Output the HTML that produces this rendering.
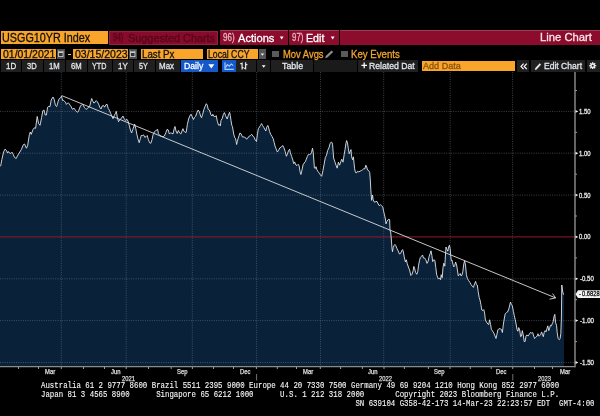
<!DOCTYPE html>
<html><head><meta charset="utf-8"><title>USGG10YR Index Line Chart</title>
<style>
*{margin:0;padding:0;box-sizing:border-box}
html,body{width:600px;height:416px;background:#000;overflow:hidden}
body{position:relative;font-family:"Liberation Sans",Arial,sans-serif;color:#fff}
.a{position:absolute}
.t{position:absolute;white-space:pre;transform-origin:0 0;font-family:"Liberation Sans",Arial,sans-serif;-webkit-text-stroke:0.3px currentColor}
#chart{position:absolute;left:0;top:0}
#chart .g{stroke:#6f7884;stroke-width:1;stroke-dasharray:1 1.3;opacity:.55}
#chart .tk{stroke:#9a9a9a;stroke-width:1}
.or{background:#f9a52b}
.rd{background:#8c0c2d;border-top:1px solid #a33a55}
.bt{position:absolute;background:#202020;height:11.6px;top:60.2px}
.ft{font-family:"Liberation Mono",monospace;color:#f6f6f6;-webkit-text-stroke:0.12px currentColor}
</style></head><body>
<svg id="chart" width="600" height="416" viewBox="0 0 600 416">
<path d="M0,366.7 L0,166.3 L0.6,166.3 L1.8,159.7 L3.6,151.8 L5,149.2 L6.6,150.6 L7.5,153 L8.4,151.5 L9.4,153 L10.8,153.4 L12,152.2 L13.2,154.3 L14.4,157.3 L16.2,158.5 L17.4,156 L19.2,153 L21.4,149.4 L23.4,144.6 L24.6,144 L26.4,148.2 L27.6,145.8 L29.4,134.4 L30.3,132 L31.2,134.4 L33,129.6 L34.3,127.8 L35.6,128.3 L37.2,116.5 L38.6,123.5 L40,125.3 L41.6,117.5 L42.8,110.8 L44,110 L45.2,115 L46.4,115 L47.6,107.2 L48.8,106.4 L50,106.6 L51.2,100 L53,97 L54.2,99.4 L55.4,105.4 L56.6,106.6 L57.8,103 L58,101.6 L59.2,98.8 L60.5,97.8 L61.5,96.1 L62,98.1 L62.7,100.6 L63.6,100.3 L64.6,101.6 L65.5,102.2 L66.4,104.4 L67.4,103.4 L68.3,102.8 L69.2,103.8 L70.2,105.3 L71.1,106.6 L72.1,108.8 L73,109.4 L73.9,108.1 L74.9,109.4 L75.8,110.9 L76.8,111.9 L77.7,112.2 L78.6,110.9 L79.6,108.1 L80.5,105.9 L81.4,105 L82.4,104.4 L83.3,105.3 L84.2,107.2 L85.2,108.4 L86.1,109.4 L87.1,108.8 L88,107.5 L89.6,106.6 L90.8,101.8 L91.7,98.5 L92.6,100.6 L93.8,103 L95,102.4 L96.2,100.6 L97.4,101.8 L98.6,104.2 L99.8,107.2 L101,109 L102.2,106 L103.4,105.4 L104.6,107.2 L105.8,104.8 L107,104.2 L108.2,108.4 L109.4,110.2 L110.6,113.2 L111.9,116.2 L113,118.7 L114.3,115.6 L115.5,113.2 L116.3,111.4 L117.3,116.9 L118.5,121.7 L119.7,119.9 L121.5,118 L123,116 L124.2,118.7 L125.7,120.5 L126.8,119.2 L128,121 L129.2,125.2 L130.4,130 L131.6,133 L132.8,129.4 L133.7,127 L134.6,124 L135.8,128.8 L137,134.9 L138.2,139.7 L139.2,142.7 L140.4,138.5 L141.2,135.5 L142.4,135.5 L143.6,134.9 L144.8,137.3 L146,136.7 L147.2,135.5 L148.4,139.7 L149.6,142.7 L150.8,143.3 L152,139.7 L153.2,134.3 L154.4,131.9 L155.6,130.6 L156.8,130 L157.7,129.4 L158.4,133.7 L159.9,135.5 L161,136 L162.9,136.7 L164.4,136 L165.9,132.5 L167,129.4 L168.3,130 L169.2,133.7 L170.4,133 L171.8,133.2 L173,134 L174.2,128.7 L175,126.5 L176,131 L177.2,133.5 L178.4,130.5 L179.6,132.9 L180.8,134 L182,131 L183,128.7 L183.8,131 L185,132.3 L186.2,132.3 L187.4,124.4 L188.6,119 L189.8,116 L191,114.2 L192.2,116.6 L193.4,119.6 L194.6,117.2 L195.8,116 L197,112.4 L198.2,110 L199.4,111.8 L200.6,116 L201.5,117.8 L202.7,114.2 L203.9,109.4 L205.1,106.4 L206.3,103.7 L207.3,105.2 L208.2,109.4 L209.4,110 L210.9,114.8 L212.1,116 L212.7,114.2 L214.2,116.6 L215.7,116.4 L216.2,115.6 L217.4,121.6 L218.6,125.2 L219.8,124.6 L220.4,125.8 L221,120.4 L222.2,118.6 L223.4,114.4 L224.4,112.6 L225.6,115.6 L226,116.7 L227.2,119 L228.4,115.2 L229.6,112.3 L230.3,115.7 L231,120.5 L231.8,125.3 L232.5,126.8 L233.2,131 L233.9,134.9 L234.8,137.8 L235.4,138.3 L236.1,141.2 L236.6,144.5 L237.3,141.7 L238,138.8 L239,135.9 L239.9,133 L240.9,133.5 L241.9,135.9 L242.8,137.3 L243.8,136.8 L244.8,137.3 L245.7,137.8 L246.5,139.1 L248,137.9 L249.3,136 L250.5,135.5 L251.7,134.3 L252.9,136 L254.1,137.3 L255.3,140.3 L256.5,141.5 L257.3,134.9 L258.3,128.8 L259.5,127 L260.5,125.4 L261.6,123.6 L262.6,125.6 L263.8,127.4 L265,129.8 L265.8,131 L266.6,127.4 L267.8,125.4 L268.7,128 L269.6,131.6 L270.8,134.6 L272,136.4 L273.2,138.8 L274.2,142.5 L275,146 L276.2,149 L277.4,152 L278.6,150.3 L279.8,147.9 L281,147.3 L282.2,146 L282.8,145.5 L284,147.9 L285.2,151.5 L286.4,156.3 L287.4,153.9 L288.6,150.6 L289.6,149.2 L290.4,152.8 L291.6,156.4 L292.8,160 L293.7,163.7 L294.6,161.9 L295.8,164.9 L297,165.5 L298.2,164.3 L299.2,166.1 L300,171.5 L300.9,174.5 L301.8,170.9 L303,164.9 L304.2,163 L305.4,161.5 L306.3,159.2 L307.3,156.5 L308.4,154.4 L309.5,154.6 L310.6,154.2 L311.5,152.5 L312.5,148.2 L313.2,152.2 L313.8,160 L314.4,167.9 L315.3,168.5 L316,166.7 L316.9,169.7 L318.1,171.5 L319.3,173.3 L320.5,175 L321.7,176.3 L322.9,170.9 L324.1,164.3 L325.3,157.6 L326.5,155.2 L327.7,150.4 L328.9,148 L330.1,143.5 L331.3,142 L332.1,142.6 L332.6,144.8 L333.6,158 L334.8,161.6 L336,165.2 L337.2,168.2 L338.4,162.2 L339.6,165.2 L340.8,161.6 L341.8,159.2 L343,162.2 L344.2,154.4 L345,149.6 L345.9,143.6 L346.6,140.6 L347.4,142.4 L348.3,148.4 L349.2,153.8 L350.2,151.4 L351,149.6 L351.6,156.8 L352.6,159.8 L353.4,156.8 L354,162.8 L354.6,168.8 L355.5,172.5 L356.4,173 L357.6,171.2 L358.8,171.9 L360,171.2 L361.3,170.6 L362.5,169.8 L363.7,168.8 L364.9,168.8 L365.8,165.2 L366.7,167 L367.5,170 L368.7,170.6 L369.7,172.5 L370.3,180 L370.8,189.6 L371.6,200.4 L372.5,195 L373.2,199.8 L374.4,202.2 L375.8,201.6 L377,201.4 L378.2,204 L379.4,205.8 L380.4,204.6 L381.6,205.8 L382.8,207 L383.6,211.3 L384.5,214.9 L385.4,219 L386,223.9 L386.9,221.5 L388.1,219.7 L389,219 L389.6,219.7 L390,230 L390.8,233 L391.3,239 L392,248.7 L392.5,251.7 L393.2,247.5 L394,245.6 L394.9,244.4 L395.8,245.6 L397,248.7 L398.2,251 L399.4,254 L400.6,253.5 L401.8,250.5 L402.6,249.6 L403.4,252 L404.2,256.8 L405.4,262 L406.3,259.8 L407.2,263.4 L408.4,267 L409.6,270 L410.8,275.5 L412,274.3 L413.2,270.6 L413.8,266.4 L414.7,268.8 L415.6,272.5 L416.8,274.3 L417.8,271.3 L418.6,265.2 L419.5,260.4 L420.4,257.4 L421.6,256.2 L422.6,255 L423.4,258 L424.6,258 L425.8,259.8 L427,263.4 L428.2,261 L429.2,256.2 L430.3,253.2 L431,250.8 L431.9,255.6 L432.7,261.6 L433.7,259.8 L434.9,260.4 L435.8,267.6 L436.7,274.9 L437.9,277.9 L438.7,279.1 L439.7,277.9 L440.6,279.7 L441.2,274.7 L442.2,277.7 L443,267.5 L443.8,263.2 L444.8,266.2 L445.4,256 L446,247 L447,249.4 L447.8,251.2 L448.7,247 L449.4,245.2 L450.2,248.8 L450.8,256.6 L451.4,260.8 L452,260.2 L453,264.4 L453.8,266.9 L454.7,265.6 L455.6,262 L456.6,265 L457.4,269.9 L458.3,275.9 L459.2,274.7 L460.2,273.5 L461,275.9 L461.9,275.3 L462.8,271.7 L463.8,263.8 L464.6,260.8 L465.5,265 L466.4,274.7 L467.4,278.5 L468.6,280.5 L469.8,282.3 L471,284.4 L472.2,286.2 L473.4,287.4 L474.6,283.8 L475.6,281.4 L476.4,284.4 L477.3,285 L478.2,291.6 L479.2,297.6 L480,300 L480.9,304.5 L481.8,310 L483,310.5 L483.8,309.6 L484.6,313.2 L485.4,320 L486.6,322.2 L487.8,324 L488.7,324.6 L489.6,319.8 L490.6,324.6 L491.4,329.4 L492.6,331.2 L493.8,333 L495,336 L496,338.5 L496.8,334.9 L497.8,330 L499,328.6 L500.2,328.8 L501.4,329.4 L502.4,332.5 L503.4,324 L504.4,318 L505.2,313.8 L506.4,312.6 L507.6,312 L508.8,309 L509.8,304.8 L510.5,302 L511.4,304.8 L512.3,305.8 L513.4,311.4 L514.3,315.6 L515.1,319.2 L516.1,324 L517,329.4 L517.9,331.2 L518.7,327.6 L519.7,330 L520.6,336.7 L521.5,336.1 L522.3,330.6 L523.3,334.9 L524.2,341.5 L525.1,341.5 L526,336.1 L526.8,334.9 L528,336.1 L529.2,334.3 L530.4,332.5 L531.6,333 L532.8,332.7 L533.7,336.1 L534.6,338.5 L535.8,337.3 L537,336.1 L538,333.7 L538.8,336.1 L539.7,335.5 L540.6,334.9 L541.6,331.9 L542.4,334.3 L543.3,336.7 L544.2,332.5 L545.2,330.6 L546,331.9 L546.9,328.8 L547.8,325.8 L548.8,330.6 L549.6,328.2 L550.5,325.2 L551.4,325.8 L552.4,323.4 L553.2,321.6 L554.1,316.2 L554.8,314.4 L555.6,322.8 L556.5,325.2 L557.2,332.5 L558.1,338.5 L559.3,339.7 L560.1,338.5 L560.8,333.7 L561.4,318 L561.8,285 L562.6,291 L563.5,294.7 L564,294.7 L564,366.7 Z" fill="#0a213a"/>
<line x1="0" y1="111.4" x2="574" y2="111.4" class="g"/><line x1="0" y1="153.2" x2="574" y2="153.2" class="g"/><line x1="0" y1="195.1" x2="574" y2="195.1" class="g"/><line x1="0" y1="278.8" x2="574" y2="278.8" class="g"/><line x1="0" y1="320.6" x2="574" y2="320.6" class="g"/><line x1="0" y1="362.5" x2="574" y2="362.5" class="g"/><line x1="61.3" y1="72" x2="61.3" y2="366" class="g"/><line x1="126.2" y1="72" x2="126.2" y2="366" class="g"/><line x1="192.3" y1="72" x2="192.3" y2="366" class="g"/><line x1="256.6" y1="72" x2="256.6" y2="366" class="g"/><line x1="320.5" y1="72" x2="320.5" y2="366" class="g"/><line x1="383.7" y1="72" x2="383.7" y2="366" class="g"/><line x1="450.2" y1="72" x2="450.2" y2="366" class="g"/><line x1="512.6" y1="72" x2="512.6" y2="366" class="g"/>
<line x1="0" y1="236.9" x2="574" y2="236.9" stroke="#951824" stroke-width="1"/>
<path d="M0.6,166.3 L1.8,159.7 L3.6,151.8 L5,149.2 L6.6,150.6 L7.5,153 L8.4,151.5 L9.4,153 L10.8,153.4 L12,152.2 L13.2,154.3 L14.4,157.3 L16.2,158.5 L17.4,156 L19.2,153 L21.4,149.4 L23.4,144.6 L24.6,144 L26.4,148.2 L27.6,145.8 L29.4,134.4 L30.3,132 L31.2,134.4 L33,129.6 L34.3,127.8 L35.6,128.3 L37.2,116.5 L38.6,123.5 L40,125.3 L41.6,117.5 L42.8,110.8 L44,110 L45.2,115 L46.4,115 L47.6,107.2 L48.8,106.4 L50,106.6 L51.2,100 L53,97 L54.2,99.4 L55.4,105.4 L56.6,106.6 L57.8,103 L58,101.6 L59.2,98.8 L60.5,97.8 L61.5,96.1 L62,98.1 L62.7,100.6 L63.6,100.3 L64.6,101.6 L65.5,102.2 L66.4,104.4 L67.4,103.4 L68.3,102.8 L69.2,103.8 L70.2,105.3 L71.1,106.6 L72.1,108.8 L73,109.4 L73.9,108.1 L74.9,109.4 L75.8,110.9 L76.8,111.9 L77.7,112.2 L78.6,110.9 L79.6,108.1 L80.5,105.9 L81.4,105 L82.4,104.4 L83.3,105.3 L84.2,107.2 L85.2,108.4 L86.1,109.4 L87.1,108.8 L88,107.5 L89.6,106.6 L90.8,101.8 L91.7,98.5 L92.6,100.6 L93.8,103 L95,102.4 L96.2,100.6 L97.4,101.8 L98.6,104.2 L99.8,107.2 L101,109 L102.2,106 L103.4,105.4 L104.6,107.2 L105.8,104.8 L107,104.2 L108.2,108.4 L109.4,110.2 L110.6,113.2 L111.9,116.2 L113,118.7 L114.3,115.6 L115.5,113.2 L116.3,111.4 L117.3,116.9 L118.5,121.7 L119.7,119.9 L121.5,118 L123,116 L124.2,118.7 L125.7,120.5 L126.8,119.2 L128,121 L129.2,125.2 L130.4,130 L131.6,133 L132.8,129.4 L133.7,127 L134.6,124 L135.8,128.8 L137,134.9 L138.2,139.7 L139.2,142.7 L140.4,138.5 L141.2,135.5 L142.4,135.5 L143.6,134.9 L144.8,137.3 L146,136.7 L147.2,135.5 L148.4,139.7 L149.6,142.7 L150.8,143.3 L152,139.7 L153.2,134.3 L154.4,131.9 L155.6,130.6 L156.8,130 L157.7,129.4 L158.4,133.7 L159.9,135.5 L161,136 L162.9,136.7 L164.4,136 L165.9,132.5 L167,129.4 L168.3,130 L169.2,133.7 L170.4,133 L171.8,133.2 L173,134 L174.2,128.7 L175,126.5 L176,131 L177.2,133.5 L178.4,130.5 L179.6,132.9 L180.8,134 L182,131 L183,128.7 L183.8,131 L185,132.3 L186.2,132.3 L187.4,124.4 L188.6,119 L189.8,116 L191,114.2 L192.2,116.6 L193.4,119.6 L194.6,117.2 L195.8,116 L197,112.4 L198.2,110 L199.4,111.8 L200.6,116 L201.5,117.8 L202.7,114.2 L203.9,109.4 L205.1,106.4 L206.3,103.7 L207.3,105.2 L208.2,109.4 L209.4,110 L210.9,114.8 L212.1,116 L212.7,114.2 L214.2,116.6 L215.7,116.4 L216.2,115.6 L217.4,121.6 L218.6,125.2 L219.8,124.6 L220.4,125.8 L221,120.4 L222.2,118.6 L223.4,114.4 L224.4,112.6 L225.6,115.6 L226,116.7 L227.2,119 L228.4,115.2 L229.6,112.3 L230.3,115.7 L231,120.5 L231.8,125.3 L232.5,126.8 L233.2,131 L233.9,134.9 L234.8,137.8 L235.4,138.3 L236.1,141.2 L236.6,144.5 L237.3,141.7 L238,138.8 L239,135.9 L239.9,133 L240.9,133.5 L241.9,135.9 L242.8,137.3 L243.8,136.8 L244.8,137.3 L245.7,137.8 L246.5,139.1 L248,137.9 L249.3,136 L250.5,135.5 L251.7,134.3 L252.9,136 L254.1,137.3 L255.3,140.3 L256.5,141.5 L257.3,134.9 L258.3,128.8 L259.5,127 L260.5,125.4 L261.6,123.6 L262.6,125.6 L263.8,127.4 L265,129.8 L265.8,131 L266.6,127.4 L267.8,125.4 L268.7,128 L269.6,131.6 L270.8,134.6 L272,136.4 L273.2,138.8 L274.2,142.5 L275,146 L276.2,149 L277.4,152 L278.6,150.3 L279.8,147.9 L281,147.3 L282.2,146 L282.8,145.5 L284,147.9 L285.2,151.5 L286.4,156.3 L287.4,153.9 L288.6,150.6 L289.6,149.2 L290.4,152.8 L291.6,156.4 L292.8,160 L293.7,163.7 L294.6,161.9 L295.8,164.9 L297,165.5 L298.2,164.3 L299.2,166.1 L300,171.5 L300.9,174.5 L301.8,170.9 L303,164.9 L304.2,163 L305.4,161.5 L306.3,159.2 L307.3,156.5 L308.4,154.4 L309.5,154.6 L310.6,154.2 L311.5,152.5 L312.5,148.2 L313.2,152.2 L313.8,160 L314.4,167.9 L315.3,168.5 L316,166.7 L316.9,169.7 L318.1,171.5 L319.3,173.3 L320.5,175 L321.7,176.3 L322.9,170.9 L324.1,164.3 L325.3,157.6 L326.5,155.2 L327.7,150.4 L328.9,148 L330.1,143.5 L331.3,142 L332.1,142.6 L332.6,144.8 L333.6,158 L334.8,161.6 L336,165.2 L337.2,168.2 L338.4,162.2 L339.6,165.2 L340.8,161.6 L341.8,159.2 L343,162.2 L344.2,154.4 L345,149.6 L345.9,143.6 L346.6,140.6 L347.4,142.4 L348.3,148.4 L349.2,153.8 L350.2,151.4 L351,149.6 L351.6,156.8 L352.6,159.8 L353.4,156.8 L354,162.8 L354.6,168.8 L355.5,172.5 L356.4,173 L357.6,171.2 L358.8,171.9 L360,171.2 L361.3,170.6 L362.5,169.8 L363.7,168.8 L364.9,168.8 L365.8,165.2 L366.7,167 L367.5,170 L368.7,170.6 L369.7,172.5 L370.3,180 L370.8,189.6 L371.6,200.4 L372.5,195 L373.2,199.8 L374.4,202.2 L375.8,201.6 L377,201.4 L378.2,204 L379.4,205.8 L380.4,204.6 L381.6,205.8 L382.8,207 L383.6,211.3 L384.5,214.9 L385.4,219 L386,223.9 L386.9,221.5 L388.1,219.7 L389,219 L389.6,219.7 L390,230 L390.8,233 L391.3,239 L392,248.7 L392.5,251.7 L393.2,247.5 L394,245.6 L394.9,244.4 L395.8,245.6 L397,248.7 L398.2,251 L399.4,254 L400.6,253.5 L401.8,250.5 L402.6,249.6 L403.4,252 L404.2,256.8 L405.4,262 L406.3,259.8 L407.2,263.4 L408.4,267 L409.6,270 L410.8,275.5 L412,274.3 L413.2,270.6 L413.8,266.4 L414.7,268.8 L415.6,272.5 L416.8,274.3 L417.8,271.3 L418.6,265.2 L419.5,260.4 L420.4,257.4 L421.6,256.2 L422.6,255 L423.4,258 L424.6,258 L425.8,259.8 L427,263.4 L428.2,261 L429.2,256.2 L430.3,253.2 L431,250.8 L431.9,255.6 L432.7,261.6 L433.7,259.8 L434.9,260.4 L435.8,267.6 L436.7,274.9 L437.9,277.9 L438.7,279.1 L439.7,277.9 L440.6,279.7 L441.2,274.7 L442.2,277.7 L443,267.5 L443.8,263.2 L444.8,266.2 L445.4,256 L446,247 L447,249.4 L447.8,251.2 L448.7,247 L449.4,245.2 L450.2,248.8 L450.8,256.6 L451.4,260.8 L452,260.2 L453,264.4 L453.8,266.9 L454.7,265.6 L455.6,262 L456.6,265 L457.4,269.9 L458.3,275.9 L459.2,274.7 L460.2,273.5 L461,275.9 L461.9,275.3 L462.8,271.7 L463.8,263.8 L464.6,260.8 L465.5,265 L466.4,274.7 L467.4,278.5 L468.6,280.5 L469.8,282.3 L471,284.4 L472.2,286.2 L473.4,287.4 L474.6,283.8 L475.6,281.4 L476.4,284.4 L477.3,285 L478.2,291.6 L479.2,297.6 L480,300 L480.9,304.5 L481.8,310 L483,310.5 L483.8,309.6 L484.6,313.2 L485.4,320 L486.6,322.2 L487.8,324 L488.7,324.6 L489.6,319.8 L490.6,324.6 L491.4,329.4 L492.6,331.2 L493.8,333 L495,336 L496,338.5 L496.8,334.9 L497.8,330 L499,328.6 L500.2,328.8 L501.4,329.4 L502.4,332.5 L503.4,324 L504.4,318 L505.2,313.8 L506.4,312.6 L507.6,312 L508.8,309 L509.8,304.8 L510.5,302 L511.4,304.8 L512.3,305.8 L513.4,311.4 L514.3,315.6 L515.1,319.2 L516.1,324 L517,329.4 L517.9,331.2 L518.7,327.6 L519.7,330 L520.6,336.7 L521.5,336.1 L522.3,330.6 L523.3,334.9 L524.2,341.5 L525.1,341.5 L526,336.1 L526.8,334.9 L528,336.1 L529.2,334.3 L530.4,332.5 L531.6,333 L532.8,332.7 L533.7,336.1 L534.6,338.5 L535.8,337.3 L537,336.1 L538,333.7 L538.8,336.1 L539.7,335.5 L540.6,334.9 L541.6,331.9 L542.4,334.3 L543.3,336.7 L544.2,332.5 L545.2,330.6 L546,331.9 L546.9,328.8 L547.8,325.8 L548.8,330.6 L549.6,328.2 L550.5,325.2 L551.4,325.8 L552.4,323.4 L553.2,321.6 L554.1,316.2 L554.8,314.4 L555.6,322.8 L556.5,325.2 L557.2,332.5 L558.1,338.5 L559.3,339.7 L560.1,338.5 L560.8,333.7 L561.4,318 L561.8,285 L562.6,291 L563.5,294.7" fill="none" stroke="#dfe5ec" stroke-width="0.9" stroke-linejoin="round"/>
<line x1="61.7" y1="95.6" x2="555.6" y2="297.9" stroke="#dcdcdc" stroke-width="0.9"/>
<path d="M552.6,293.6 L555.6,297.9 L549.6,299.2" fill="none" stroke="#dcdcdc" stroke-width="0.9"/>
<line x1="0" y1="366.7" x2="575.5" y2="366.7" stroke="#8a8a8a" stroke-width="1.2"/>
<line x1="575" y1="71.6" x2="575" y2="367.3" stroke="#7d7d7d" stroke-width="1.6"/>
<line x1="18.5" y1="366.7" x2="18.5" y2="369" class="tk"/><line x1="38.5" y1="366.7" x2="38.5" y2="369" class="tk"/><line x1="61.3" y1="366.7" x2="61.3" y2="369" class="tk"/><line x1="83.5" y1="366.7" x2="83.5" y2="369" class="tk"/><line x1="104.5" y1="366.7" x2="104.5" y2="369" class="tk"/><line x1="126.2" y1="366.7" x2="126.2" y2="369" class="tk"/><line x1="148.5" y1="366.7" x2="148.5" y2="369" class="tk"/><line x1="171.2" y1="366.7" x2="171.2" y2="369" class="tk"/><line x1="192.4" y1="366.7" x2="192.4" y2="369" class="tk"/><line x1="213.5" y1="366.7" x2="213.5" y2="369" class="tk"/><line x1="233.5" y1="366.7" x2="233.5" y2="369" class="tk"/><line x1="256.4" y1="366.7" x2="256.4" y2="369" class="tk"/><line x1="277.3" y1="366.7" x2="277.3" y2="369" class="tk"/><line x1="296.5" y1="366.7" x2="296.5" y2="369" class="tk"/><line x1="320.3" y1="366.7" x2="320.3" y2="369" class="tk"/><line x1="340.6" y1="366.7" x2="340.6" y2="369" class="tk"/><line x1="362.4" y1="366.7" x2="362.4" y2="369" class="tk"/><line x1="384" y1="366.7" x2="384" y2="369" class="tk"/><line x1="404.4" y1="366.7" x2="404.4" y2="369" class="tk"/><line x1="428.4" y1="366.7" x2="428.4" y2="369" class="tk"/><line x1="450" y1="366.7" x2="450" y2="369" class="tk"/><line x1="470.3" y1="366.7" x2="470.3" y2="369" class="tk"/><line x1="491.2" y1="366.7" x2="491.2" y2="369" class="tk"/><line x1="512.7" y1="366.7" x2="512.7" y2="369" class="tk"/><line x1="534.5" y1="366.7" x2="534.5" y2="369" class="tk"/><line x1="552.5" y1="366.7" x2="552.5" y2="369" class="tk"/><line x1="256.6" y1="374" x2="256.6" y2="380.5" stroke="#707070" stroke-width="1"/><line x1="512.8" y1="374" x2="512.8" y2="380.5" stroke="#707070" stroke-width="1"/><line x1="575" y1="341.6" x2="577" y2="341.6" class="tk"/><line x1="575" y1="299.7" x2="577" y2="299.7" class="tk"/><line x1="575" y1="257.9" x2="577" y2="257.9" class="tk"/><line x1="575" y1="216.0" x2="577" y2="216.0" class="tk"/><line x1="575" y1="174.2" x2="577" y2="174.2" class="tk"/><line x1="575" y1="132.3" x2="577" y2="132.3" class="tk"/><line x1="575" y1="90.5" x2="577" y2="90.5" class="tk"/><path d="M575.5,110.0 L578.3,111.4 L575.5,112.8 Z" fill="#f2f2f2"/><path d="M575.5,151.8 L578.3,153.2 L575.5,154.7 Z" fill="#f2f2f2"/><path d="M575.5,193.7 L578.3,195.1 L575.5,196.5 Z" fill="#f2f2f2"/><path d="M575.5,235.5 L578.3,236.9 L575.5,238.3 Z" fill="#f2f2f2"/><path d="M575.5,277.4 L578.3,278.8 L575.5,280.2 Z" fill="#f2f2f2"/><path d="M575.5,319.2 L578.3,320.6 L575.5,322.0 Z" fill="#f2f2f2"/><path d="M575.5,361.1 L578.3,362.5 L575.5,363.9 Z" fill="#f2f2f2"/>
<path d="M575.5,294.25 L578,290.25 L600,290.25 L600,298 L578,298 Z" fill="#f4f4f4"/>
</svg>
<!-- row 1 boxes -->
<div class="a or" style="left:1px;top:31px;width:106.8px;height:13px"></div>
<div class="a" style="left:109px;top:30.5px;width:109.3px;height:14.5px;background:#870b2b;border:1px solid #96203e"></div>
<div class="a rd" style="left:219.8px;top:30.4px;width:67.8px;height:14.4px"></div>
<svg class="a" style="left:279px;top:35px" width="6" height="6" viewBox="0 0 6 6"><path d="M0.8,1.4 H4.6 L2.7,4.4 Z" fill="#fff"/></svg>
<div class="a rd" style="left:288.7px;top:30.4px;width:50px;height:14.2px"></div>
<svg class="a" style="left:330.3px;top:35px" width="6" height="6" viewBox="0 0 6 6"><path d="M0.8,1.4 H4.6 L2.7,4.4 Z" fill="#fff"/></svg>
<div class="a rd" style="left:340px;top:30.4px;width:260px;height:14.6px"></div>
<!-- row 2 boxes -->
<div class="a or" style="left:1px;top:48.8px;width:54.9px;height:10.4px"></div>
<div class="a" style="left:56.9px;top:48.9px;width:8.1px;height:10px;background:#4b4b4b"></div>
<svg class="a" style="left:56.9px;top:48.9px" width="8.1" height="10" viewBox="0 0 8.1 10"><path d="M1.1,2.3 H6.5 V8 H1.1 Z" fill="#c8c8c8"/><path d="M2,4 H5.6 V7.1 H2 Z" fill="#333"/><path d="M1.6,1.6 V2.4 M6,1.6 V2.4" stroke="#c8c8c8" stroke-width="0.9"/></svg>
<div class="a" style="left:67.8px;top:53.9px;width:3.3px;height:1.3px;background:#f7c27a"></div>
<div class="a or" style="left:72.8px;top:48.8px;width:55.7px;height:10.4px"></div>
<div class="a" style="left:128.9px;top:48.9px;width:8px;height:10px;background:#4b4b4b"></div>
<svg class="a" style="left:128.9px;top:48.9px" width="8" height="10" viewBox="0 0 8.1 10"><path d="M1.1,2.3 H6.5 V8 H1.1 Z" fill="#c8c8c8"/><path d="M2,4 H5.6 V7.1 H2 Z" fill="#333"/><path d="M1.6,1.6 V2.4 M6,1.6 V2.4" stroke="#c8c8c8" stroke-width="0.9"/></svg>
<div class="a or" style="left:141px;top:48.8px;width:61.5px;height:10.4px"></div>
<div class="a or" style="left:206.7px;top:48.8px;width:51.8px;height:10.4px"></div>
<div class="a" style="left:259.2px;top:48.8px;width:6.8px;height:10.4px;background:#555"></div>
<svg class="a" style="left:259.2px;top:48.8px" width="7" height="10.4" viewBox="0 0 7 10.4"><path d="M1.7,4.4 H5.1 L3.4,6.8 Z" fill="#eee"/></svg>
<div class="a" style="left:272px;top:51px;width:6.7px;height:6px;background:#5a5a5a"></div>
<svg class="a" style="left:324px;top:49px" width="10" height="10" viewBox="0 0 10 10"><path d="M1.2,9.2 L1.8,7 L7.6,1.4 L9.2,3 L3.4,8.6 Z" fill="#8e8e8e"/></svg>
<div class="a" style="left:341.3px;top:51px;width:6.5px;height:6px;background:#5a5a5a"></div>
<!-- row 3 buttons -->
<div class="bt" style="left:1px;width:20.3px"></div>
<div class="bt" style="left:22px;width:21px"></div>
<div class="bt" style="left:43.7px;width:21.3px"></div>
<div class="bt" style="left:65.7px;width:21.8px"></div>
<div class="bt" style="left:88.2px;width:24.3px"></div>
<div class="bt" style="left:113.2px;width:20.1px"></div>
<div class="bt" style="left:134px;width:21px"></div>
<div class="bt" style="left:155.7px;width:24.5px"></div>
<div class="bt" style="left:180.9px;width:37.4px;background:#1558c9"></div>
<svg class="a" style="left:207.5px;top:63.5px" width="7" height="5" viewBox="0 0 7 5"><path d="M0.3,0.3 H6.3 L3.3,4.6 Z" fill="#fff"/></svg>
<div class="bt" style="left:221.8px;width:14.2px;background:#1558c9"></div>
<svg class="a" style="left:221.8px;top:60.2px" width="14.2" height="11.6" viewBox="0 0 14.2 11.6"><path d="M3,2.2 V9.4 H11.8" fill="none" stroke="#a6d0ff" stroke-width="1.1"/><path d="M3.4,7.6 L5.4,4.6 L7.3,6.2 L9.3,3.9 L11.3,5.6" fill="none" stroke="#a6d0ff" stroke-width="1.1"/></svg>
<div class="bt" style="left:236.2px;width:19.8px"></div>
<svg class="a" style="left:236px;top:60px" width="14" height="12" viewBox="236 60 14 12"><path d="M242.1,62.4 V69.4 M240.2,63.7 H242.1 M242.1,67.7 H243.6 M245.6,62.2 V69.4 M245.6,64.6 H247.4 M244.1,68.3 H245.6" fill="none" stroke="#e2e2e2" stroke-width="1.25"/></svg>
<div class="bt" style="left:256.6px;width:13.4px"></div>
<svg class="a" style="left:261px;top:63.5px" width="6" height="5" viewBox="0 0 6 5"><path d="M0.8,1.2 H4.6 L2.7,3.8 Z" fill="#fff"/></svg>
<div class="bt" style="left:270.6px;width:42.7px"></div>
<div class="bt" style="left:313.5px;width:43.6px;background:#1a1a1a"></div>
<div class="bt" style="left:357.5px;width:60.5px"></div>
<svg class="a" style="left:360.5px;top:62px" width="7" height="7" viewBox="0 0 7 7"><path d="M3.2,0.4 V6.2 M0.4,3.3 H6" stroke="#fff" stroke-width="1.3"/></svg>
<div class="a or" style="left:422px;top:60.7px;width:93.3px;height:10px"></div>
<div class="bt" style="left:516.7px;width:12.8px"></div>
<svg class="a" style="left:519.5px;top:62.5px" width="8" height="7" viewBox="0 0 8 7"><path d="M3.6,0.6 L1,3.4 L3.6,6.2 M6.8,0.6 L4.2,3.4 L6.8,6.2" fill="none" stroke="#fff" stroke-width="1.2"/></svg>
<div class="bt" style="left:531px;width:54px"></div>
<svg class="a" style="left:533.5px;top:61px" width="8" height="10" viewBox="0 0 8 10"><path d="M0.9,9 L1.3,7.1 L5.8,2.2 L7.1,3.5 L2.6,8.4 Z" fill="#e6e6e6"/></svg>
<div class="bt" style="left:586.5px;width:13.5px"></div>
<svg class="a" style="left:589.2px;top:61.9px" width="7.4" height="7.4" viewBox="0 0 9 9"><g fill="#eee"><circle cx="4.5" cy="4.5" r="2.9"/><rect x="3.7" y="0.2" width="1.6" height="8.6"/><rect x="0.2" y="3.7" width="8.6" height="1.6"/><rect x="3.7" y="0.2" width="1.6" height="8.6" transform="rotate(45 4.5 4.5)"/><rect x="3.7" y="0.2" width="1.6" height="8.6" transform="rotate(-45 4.5 4.5)"/></g><circle cx="4.5" cy="4.5" r="1.2" fill="#202020"/></svg>
<div class="t" style="left:1.94px;top:29.00px;font-size:12px;line-height:18px;color:#111;transform:scaleX(0.899);">USGG10YR Index</div>
<div class="t" style="left:113.25px;top:29.00px;font-size:10.6px;line-height:16px;color:#54061a;transform:scaleX(0.667);">94)</div>
<div class="t" style="left:128.06px;top:28.50px;font-size:11.6px;line-height:17px;color:#54061a;transform:scaleX(0.938);">Suggested Charts</div>
<div class="t" style="left:223.10px;top:29.00px;font-size:10.6px;line-height:16px;color:#eab4bf;transform:scaleX(0.759);">96)</div>
<div class="t" style="left:237.80px;top:28.50px;font-size:11.6px;line-height:17px;color:#ffffff;transform:scaleX(0.958);">Actions</div>
<div class="t" style="left:292.11px;top:29.00px;font-size:10.6px;line-height:16px;color:#eab4bf;transform:scaleX(0.745);">97)</div>
<div class="t" style="left:306.15px;top:28.50px;font-size:11.6px;line-height:17px;color:#ffffff;transform:scaleX(0.920);">Edit</div>
<div class="t" style="left:539.90px;top:28.40px;font-size:11.8px;line-height:18px;color:#fbe6ea;transform:scaleX(0.954);">Line Chart</div>
<div class="t" style="left:2.88px;top:46.50px;font-size:10.4px;line-height:16px;color:#111;transform:scaleX(1.006);">01/01/2021</div>
<div class="t" style="left:74.78px;top:46.50px;font-size:10.4px;line-height:16px;color:#111;transform:scaleX(1.012);">03/15/2023</div>
<div class="t" style="left:142.42px;top:46.50px;font-size:10.4px;line-height:16px;color:#111;transform:scaleX(0.935);">Last Px</div>
<div class="t" style="left:207.51px;top:46.50px;font-size:10.4px;line-height:16px;color:#111;transform:scaleX(0.834);">Local CCY</div>
<div class="t" style="left:282.75px;top:46.50px;font-size:10.4px;line-height:16px;color:#f3a332;transform:scaleX(0.904);">Mov Avgs</div>
<div class="t" style="left:350.73px;top:46.50px;font-size:10.4px;line-height:16px;color:#f3a332;transform:scaleX(0.928);">Key Events</div>
<div class="t" style="left:5.76px;top:58.00px;font-size:9.9px;line-height:15px;color:#e4e8ec;transform:scaleX(0.808);">1D</div>
<div class="t" style="left:27.30px;top:58.00px;font-size:9.9px;line-height:15px;color:#e4e8ec;transform:scaleX(0.764);">3D</div>
<div class="t" style="left:48.68px;top:58.00px;font-size:9.9px;line-height:15px;color:#e4e8ec;transform:scaleX(0.780);">1M</div>
<div class="t" style="left:70.52px;top:58.00px;font-size:9.9px;line-height:15px;color:#e4e8ec;transform:scaleX(0.778);">6M</div>
<div class="t" style="left:92.46px;top:58.00px;font-size:9.9px;line-height:15px;color:#e4e8ec;transform:scaleX(0.727);">YTD</div>
<div class="t" style="left:117.76px;top:58.00px;font-size:9.9px;line-height:15px;color:#e4e8ec;transform:scaleX(0.803);">1Y</div>
<div class="t" style="left:138.81px;top:58.00px;font-size:9.9px;line-height:15px;color:#e4e8ec;transform:scaleX(0.723);">5Y</div>
<div class="t" style="left:159.36px;top:58.00px;font-size:9.9px;line-height:15px;color:#e4e8ec;transform:scaleX(0.808);">Max</div>
<div class="t" style="left:282.42px;top:58.00px;font-size:9.9px;line-height:15px;color:#e4e8ec;transform:scaleX(0.893);">Table</div>
<div class="t" style="left:543.91px;top:58.00px;font-size:9.9px;line-height:15px;color:#e4e8ec;transform:scaleX(0.866);">Edit Chart</div>
<div class="t" style="left:183.80px;top:58.00px;font-size:9.9px;line-height:15px;color:#ffffff;transform:scaleX(0.878);">Daily</div>
<div class="t" style="left:369.31px;top:58.00px;font-size:9.9px;line-height:15px;color:#e4e8ec;transform:scaleX(0.876);">Related Dat</div>
<div class="t" style="left:423.20px;top:58.50px;font-size:9.6px;line-height:14px;color:#85520e;transform:scaleX(0.944);">Add Data</div>
<div class="t" style="left:578.72px;top:106.80px;font-size:6.9px;line-height:10px;color:#e6e6e6;transform:scaleX(0.871);">1.50</div>
<div class="t" style="left:578.72px;top:148.65px;font-size:6.9px;line-height:10px;color:#e6e6e6;transform:scaleX(0.871);">1.00</div>
<div class="t" style="left:578.96px;top:190.50px;font-size:6.9px;line-height:10px;color:#e6e6e6;transform:scaleX(0.853);">0.50</div>
<div class="t" style="left:578.96px;top:232.35px;font-size:6.9px;line-height:10px;color:#e6e6e6;transform:scaleX(0.853);">0.00</div>
<div class="t" style="left:579.56px;top:274.20px;font-size:6.9px;line-height:10px;color:#e6e6e6;transform:scaleX(0.870);">-</div>
<div class="t" style="left:581.86px;top:274.20px;font-size:6.9px;line-height:10px;color:#e6e6e6;transform:scaleX(0.876);">0.50</div>
<div class="t" style="left:579.56px;top:316.05px;font-size:6.9px;line-height:10px;color:#e6e6e6;transform:scaleX(0.870);">-</div>
<div class="t" style="left:581.61px;top:316.05px;font-size:6.9px;line-height:10px;color:#e6e6e6;transform:scaleX(0.895);">1.00</div>
<div class="t" style="left:579.56px;top:357.90px;font-size:6.9px;line-height:10px;color:#e6e6e6;transform:scaleX(0.870);">-</div>
<div class="t" style="left:581.61px;top:357.90px;font-size:6.9px;line-height:10px;color:#e6e6e6;transform:scaleX(0.895);">1.50</div>
<div class="t" style="left:579.06px;top:289.20px;font-size:6.9px;line-height:10px;color:#1a1a1a;transform:scaleX(0.870);">-</div>
<div class="t" style="left:581.57px;top:289.20px;font-size:6.9px;line-height:10px;color:#1a1a1a;transform:scaleX(0.836);">0.6828</div>
<div class="t" style="left:44.73px;top:367.30px;font-size:6.3px;line-height:9px;color:#e2e2e2;transform:scaleX(0.930);-webkit-text-stroke:0.25px #ddd;">Mar</div>
<div class="t" style="left:111.08px;top:367.30px;font-size:6.3px;line-height:9px;color:#e2e2e2;transform:scaleX(0.930);-webkit-text-stroke:0.25px #ddd;">Jun</div>
<div class="t" style="left:177.11px;top:367.30px;font-size:6.3px;line-height:9px;color:#e2e2e2;transform:scaleX(0.930);-webkit-text-stroke:0.25px #ddd;">Sep</div>
<div class="t" style="left:239.73px;top:367.30px;font-size:6.3px;line-height:9px;color:#e2e2e2;transform:scaleX(0.930);-webkit-text-stroke:0.25px #ddd;">Dec</div>
<div class="t" style="left:302.93px;top:367.30px;font-size:6.3px;line-height:9px;color:#e2e2e2;transform:scaleX(0.930);-webkit-text-stroke:0.25px #ddd;">Mar</div>
<div class="t" style="left:368.28px;top:367.30px;font-size:6.3px;line-height:9px;color:#e2e2e2;transform:scaleX(0.930);-webkit-text-stroke:0.25px #ddd;">Jun</div>
<div class="t" style="left:433.71px;top:367.30px;font-size:6.3px;line-height:9px;color:#e2e2e2;transform:scaleX(0.930);-webkit-text-stroke:0.25px #ddd;">Sep</div>
<div class="t" style="left:496.33px;top:367.30px;font-size:6.3px;line-height:9px;color:#e2e2e2;transform:scaleX(0.930);-webkit-text-stroke:0.25px #ddd;">Dec</div>
<div class="t" style="left:559.53px;top:367.30px;font-size:6.3px;line-height:9px;color:#e2e2e2;transform:scaleX(0.930);-webkit-text-stroke:0.25px #ddd;">Mar</div>
<div class="t" style="left:121.71px;top:374.00px;font-size:6.3px;line-height:9px;color:#d8d8d8;transform:scaleX(0.920);-webkit-text-stroke:0.25px #ddd;">2021</div>
<div class="t" style="left:378.71px;top:374.00px;font-size:6.3px;line-height:9px;color:#d8d8d8;transform:scaleX(0.920);-webkit-text-stroke:0.25px #ddd;">2022</div>
<div class="t" style="left:538.11px;top:374.00px;font-size:6.3px;line-height:9px;color:#d8d8d8;transform:scaleX(0.920);-webkit-text-stroke:0.25px #ddd;">2023</div>
<div class="t ft" style="left:40.5px;top:378.50px;font-size:9.1px;line-height:14px;transform:scaleX(0.8114)">Australia 61 2 9777 8600 Brazil 5511 2395 9000 Europe 44 20 7330 7500 Germany 49 69 9204 1210 Hong Kong 852 2977 6000</div>
<div class="t ft" style="left:40.5px;top:387.80px;font-size:9.1px;line-height:14px;transform:scaleX(0.8114)">Japan 81 3 4565 8900      Singapore 65 6212 1000      U.S. 1 212 318 2000       Copyright 2023 Bloomberg Finance L.P.</div>
<div class="t ft" style="left:40.5px;top:397.00px;font-size:9.1px;line-height:14px;transform:scaleX(0.8114)">                                                                       SN 639104 G358-42-173 14-Mar-23 22:23:57 EDT  GMT-4:00</div>
</body></html>
